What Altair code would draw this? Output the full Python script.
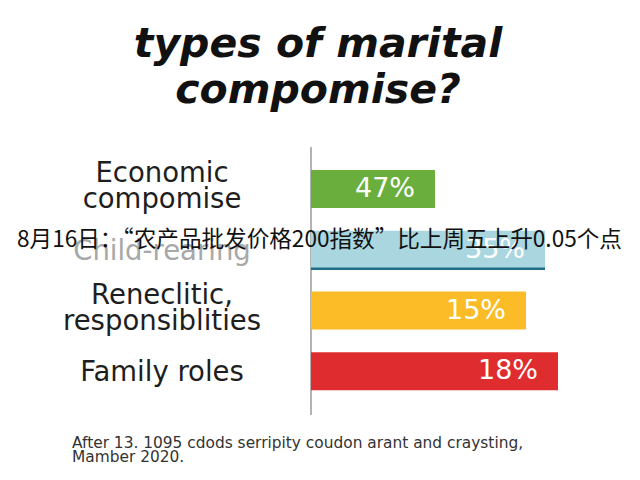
import altair as alt
import pandas as pd

# ---- data ----
categories = ["Economic compomise", "Child-rearing", "Reneclitic, responsiblities", "Family roles"]
label_lines = ["Economic\ncompomise", "Child-rearing", "Reneclitic,\nresponsiblities", "Family roles"]
bar_length = [124, 234, 215, 247]          # drawn bar lengths (px-like units)
bar_start = [0, 0, 0, 0]
pct_labels = ["47%", "35%", "15%", "18%"]
title_text = "types of marital\ncompomise?"
footer_text = "After 13. 1095 cdods serripity coudon arant and craysting,\nMamber 2020."
overlay_text = "8月16日：“农产品批发价格200指数”比上周五上升0.05个点"

bar_colors = ["#6aaf3d", "#aad6df", "#fbbc27", "#df2c2e"]

df = pd.DataFrame({"cat": categories, "label": label_lines,
                   "len": bar_length, "start": bar_start, "pct": pct_labels})

W, H = 624, 464
xscale = alt.Scale(domain=[0, 300], range=[303, 603])
yscale = alt.Scale(domain=categories, range=[162, 382.3], paddingInner=0.375, paddingOuter=0)

base = alt.Chart(df)

bars = base.mark_bar(cornerRadius=0).encode(
    x=alt.X("start:Q", scale=xscale, axis=None),
    x2="len",
    y=alt.Y("cat:N", scale=yscale, sort=categories, axis=None),
    color=alt.Color("cat:N", scale=alt.Scale(domain=categories, range=bar_colors), legend=None),
)

blue_line = base.transform_filter(alt.datum.cat == "Child-rearing").mark_rule(
    color="#1f6f8b", strokeWidth=2.5
).encode(
    x=alt.X("start:Q", scale=xscale, axis=None),
    x2="len",
    y=alt.Y("cat:N", scale=yscale, sort=categories, axis=None, bandPosition=1),
)

axis_line = alt.Chart(pd.DataFrame({"v": [0]})).mark_rule(color="#9a9a9a", strokeWidth=1.5).encode(
    x=alt.X("v:Q", scale=xscale, axis=None),
    y=alt.value(139),
    y2=alt.value(407),
)

pct = base.mark_text(align="right", baseline="middle", dx=-20, fontSize=27,
                     font="DejaVu Sans", color="#ffffff").encode(
    x=alt.X("len:Q", scale=xscale, axis=None),
    y=alt.Y("cat:N", scale=yscale, sort=categories, axis=None),
    text="pct:N",
)

label_enc = dict(
    x=alt.value(154),
    y=alt.Y("cat:N", scale=yscale, sort=categories, axis=None),
    text="label:N",
    color=alt.condition(alt.datum.cat == "Child-rearing", alt.value("#a8a8a8"), alt.value("#1e1e1e")),
)

two_line = base.transform_filter("indexof(datum.label, '\\n') >= 0").mark_text(
    align="center", baseline="middle", fontSize=27.5, lineHeight=26, dy=-15,
    font="DejaVu Sans", lineBreak="\n").encode(**label_enc)

one_line = base.transform_filter("indexof(datum.label, '\\n') < 0").mark_text(
    align="center", baseline="middle", fontSize=27.5, dy=2,
    font="DejaVu Sans").encode(**label_enc)

title = alt.Chart(pd.DataFrame({"t": [title_text]})).mark_text(
    align="center", baseline="alphabetic", fontSize=41, lineHeight=46,
    font="DejaVu Sans", fontWeight="bold", fontStyle="italic", color="#111111", lineBreak="\n"
).encode(x=alt.value(310), y=alt.value(49), text="t:N")

footer = alt.Chart(pd.DataFrame({"t": [footer_text]})).mark_text(
    align="left", baseline="alphabetic", fontSize=15.4, lineHeight=14,
    font="DejaVu Sans", color="#333333", lineBreak="\n"
).encode(x=alt.value(64), y=alt.value(440), text="t:N")

overlay = alt.Chart(pd.DataFrame({"t": [overlay_text]})).mark_text(
    align="left", baseline="middle", fontSize=22.6,
    font="Noto Sans CJK SC", color="#111111"
).encode(x=alt.value(9), y=alt.value(232), text="t:N")

chart = alt.layer(axis_line, bars, blue_line, pct, two_line, one_line, title, footer, overlay).properties(
    width=W, height=H, autosize=alt.AutoSizeParams(type="none"), padding=0,
    background="#ffffff"
).configure_view(stroke=None)

chart.save("out.html", embed_options={"renderer": "svg", "actions": False})
